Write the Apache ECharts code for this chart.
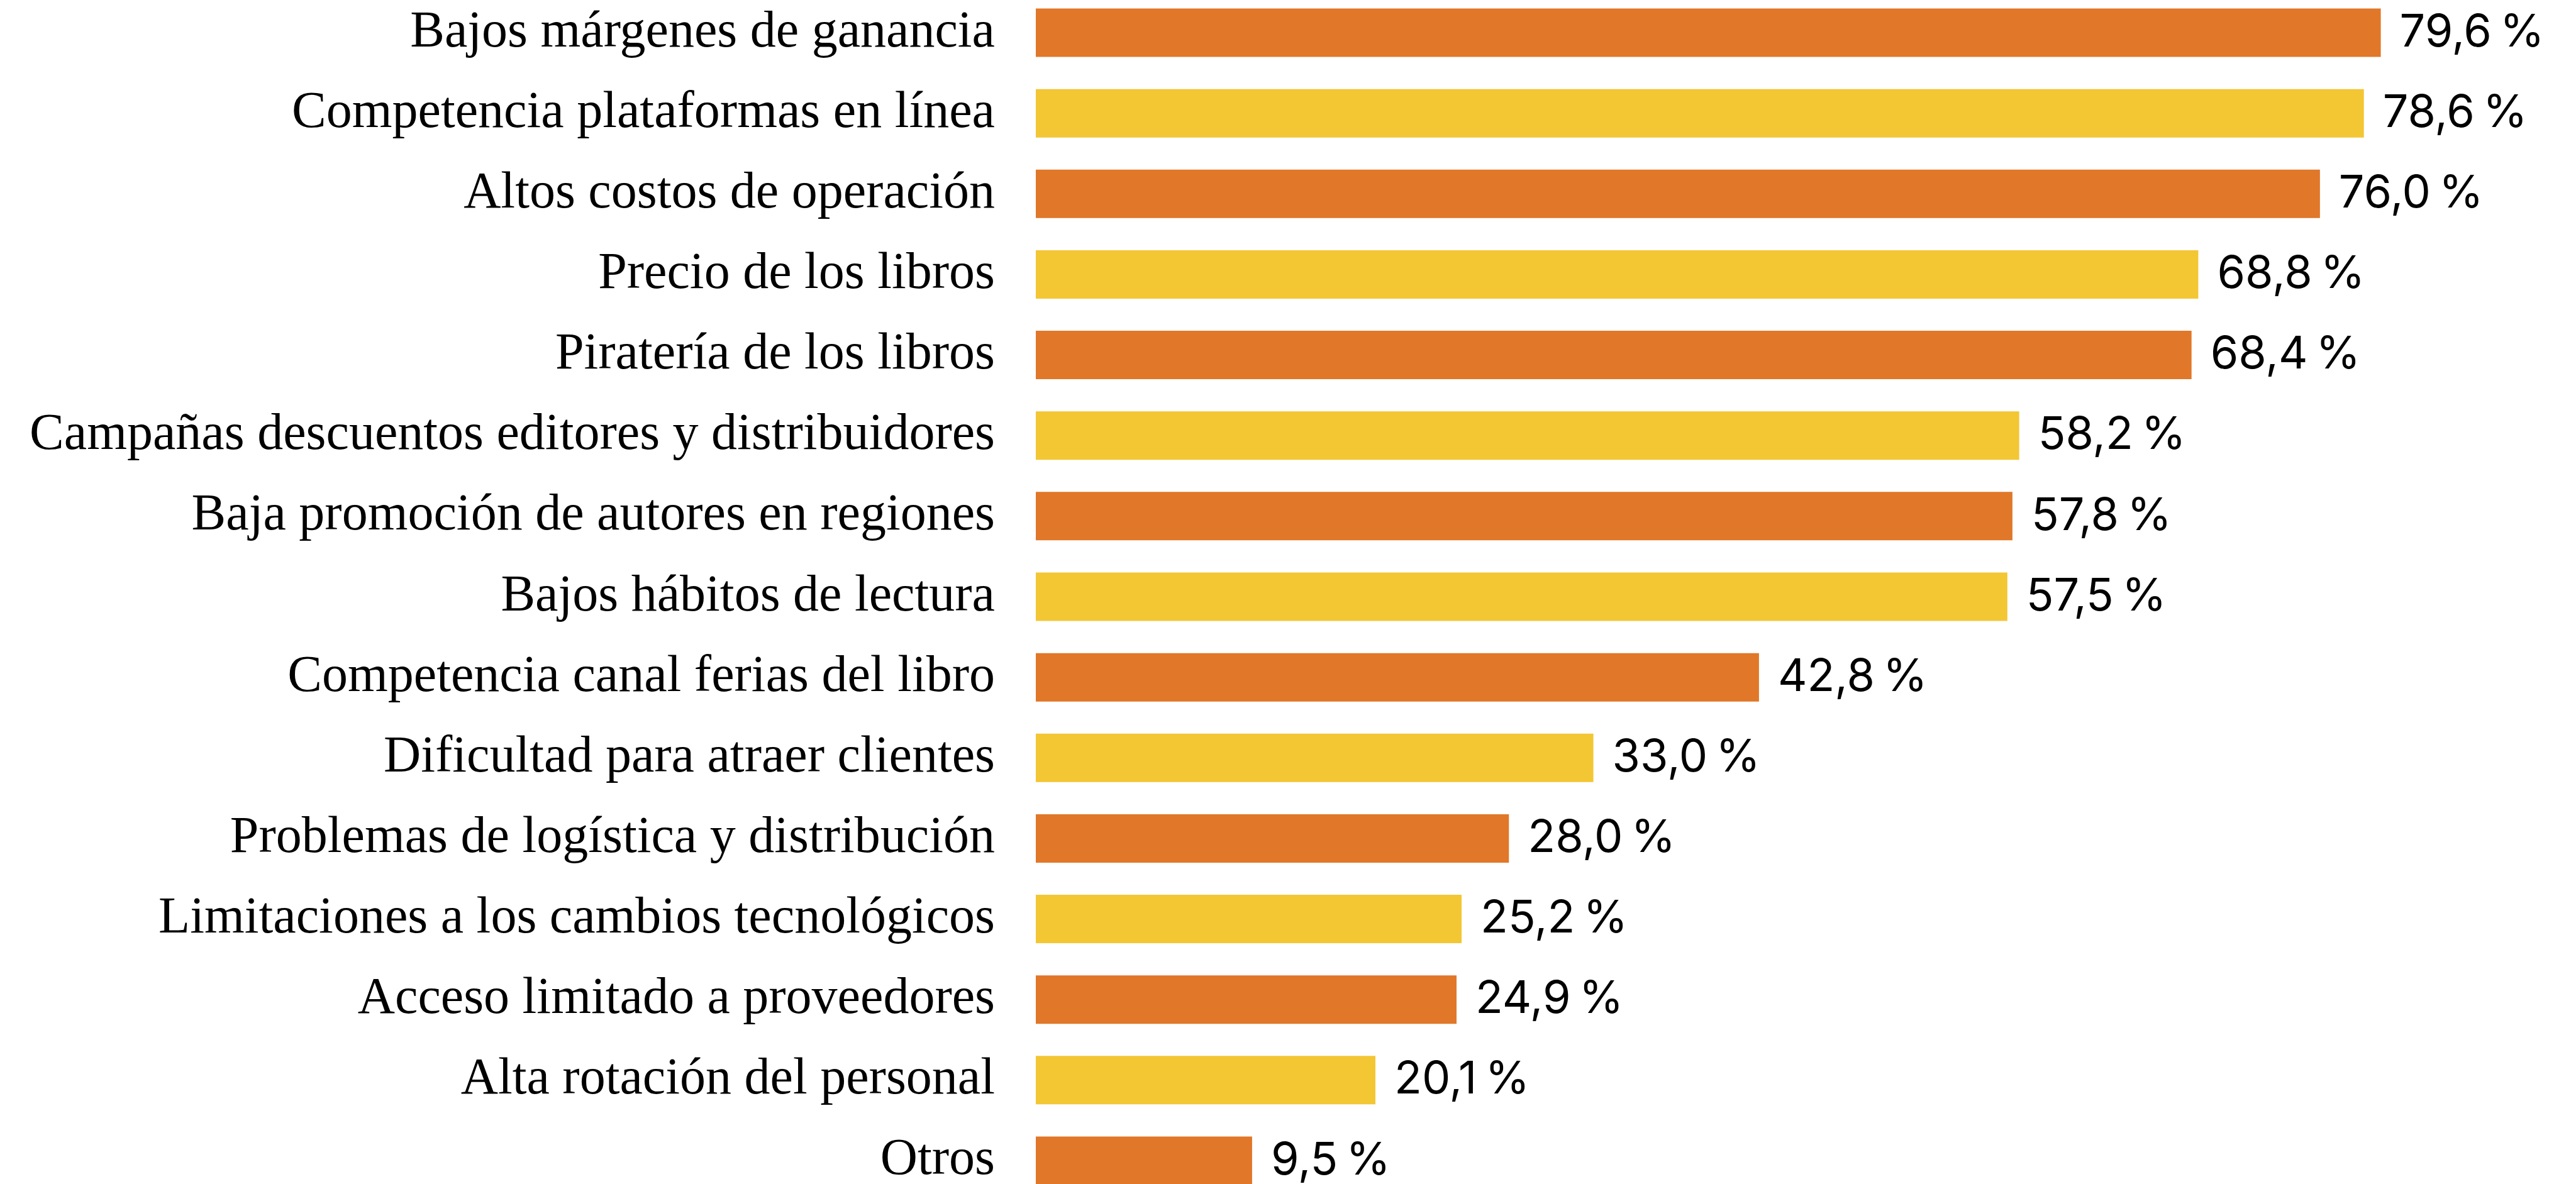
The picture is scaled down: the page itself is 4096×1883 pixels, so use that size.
<!DOCTYPE html>
<html>
<head>
<meta charset="utf-8">
<script src="https://cdn.jsdelivr.net/npm/echarts@6/dist/echarts.min.js"></script>
<style>
  html, body { margin: 0; padding: 0; background: #fff; overflow: hidden; }
  /* chart is a bit taller than the window so the last bar is cut like in the source */
  #chart { width: 4096px; height: 1922px; margin-top: -12px; }
</style>
</head>
<body>
<div id="chart"></div>
<script>
// categories, top to bottom
const categories = [
  "Bajos márgenes de ganancia",
  "Competencia plataformas en línea",
  "Altos costos de operación",
  "Precio de los libros",
  "Piratería de los libros",
  "Campañas descuentos editores y distribuidores",
  "Baja promoción de autores en regiones",
  "Bajos hábitos de lectura",
  "Competencia canal ferias del libro",
  "Dificultad para atraer clientes",
  "Problemas de logística y distribución",
  "Limitaciones a los cambios tecnológicos",
  "Acceso limitado a proveedores",
  "Alta rotación del personal",
  "Otros"
];
// bar lengths as drawn in the picture (the "Otros" bar is drawn longer than its label)
const barLengths = [79.6, 78.6, 76.0, 68.8, 68.4, 58.2, 57.8, 57.5, 42.8, 33.0, 28.0, 25.2, 24.9, 20.1, 12.8];
// value labels as printed (narrow space before %)
const valueLabels = ["79,6\u202F%", "78,6\u202F%", "76,0\u202F%", "68,8\u202F%", "68,4\u202F%", "58,2\u202F%",
  "57,8\u202F%", "57,5\u202F%", "42,8\u202F%", "33,0\u202F%", "28,0\u202F%", "25,2\u202F%", "24,9\u202F%",
  "20,1\u202F%", "9,5\u202F%"];

const ORANGE = "#E17728";
const YELLOW = "#F3C634";

const chart = echarts.init(document.getElementById("chart"));
const option = {
  animation: false,
  grid: {
    left: 1647,
    right: 31,
    top: 0,
    bottom: 0,
    containLabel: false,
  },
  xAxis: {
    type: "value",
    min: 0,
    max: 90,
    show: false,
  },
  yAxis: {
    type: "category",
    inverse: true,
    data: categories,
    axisLine: { show: false },
    axisTick: { show: false },
    splitLine: { show: false },
    axisLabel: {
      margin: 65,
      color: "#000",
      fontFamily: "Liberation Serif",
      fontSize: 82,
    },
  },
  series: [
    {
      type: "bar",
      data: barLengths,
      barWidth: 77,
      itemStyle: {
        color: (p) => (p.dataIndex % 2 === 0 ? ORANGE : YELLOW),
      },
      label: {
        show: true,
        position: "right",
        distance: 30,
        color: "#000",
        fontFamily: "Inter",
        fontSize: 72,
        formatter: (p) => valueLabels[p.dataIndex],
      },
    },
  ],
};
chart.setOption(option);
</script>
</body>
</html>
